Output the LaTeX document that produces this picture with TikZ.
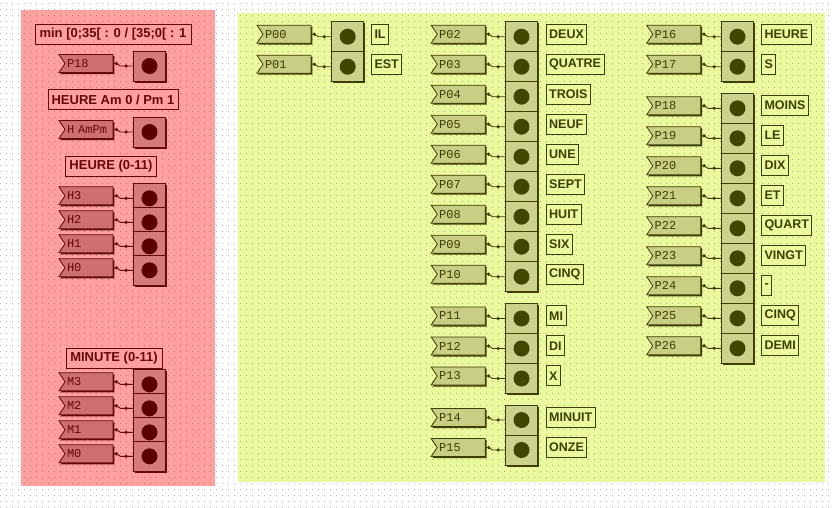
\documentclass[tikz,border=0pt]{standalone}
\usepackage{fontspec}
\setmainfont{Liberation Sans}
\setmonofont{Liberation Mono}
\usetikzlibrary{shapes.symbols,shadows,calc}

\definecolor{redpanel}{RGB}{255,160,160}
\definecolor{redtag}{RGB}{206,112,112}
\definecolor{redbox}{RGB}{214,122,122}
\definecolor{redled}{RGB}{90,0,0}
\definecolor{reddark}{RGB}{100,8,8}
\definecolor{yelpanel}{RGB}{234,248,158}
\definecolor{yeltag}{RGB}{200,206,132}
\definecolor{yelbox}{RGB}{204,210,140}
\definecolor{yelled}{RGB}{62,70,0}
\definecolor{yeldark}{RGB}{62,62,0}

% one output pin: tag, wire, LED cell
\newcommand\ledrow[6]{%
  \node[pintag=#1] (t#2) at (#4,#6+12.5) {#3};
  \node[ledbox=#1] (b#2) at (#5,#6+15) {};
  \node[led=#1] (l#2) at (b#2.center) {};
  \draw[wire=#1] (t#2.east) -- ++(3,0) -- ([xshift=7pt]t#2.east |- b#2.west) -- (b#2.west);
  \node[pindot=#1] (da#2) at ([xshift=3pt]t#2.east) {};
  \node[pindot=#1] (db#2) at ([xshift=-7pt]b#2.west) {};
}

\begin{document}
\begin{tikzpicture}[x=1pt, y=-1pt,
    griddot/.style={draw=black, opacity=0.28, line width=1pt, dash pattern=on 1pt off 5pt},
    pintag/.style={signal, signal from=west, signal to=nowhere, signal pointer angle=112,
      draw=#1dark, fill=#1tag, line width=0.8pt, minimum width=54pt, minimum height=18pt,
      inner xsep=1pt, inner ysep=0pt, text width=44pt, align=left, text=#1dark,
      font=\ttfamily\fontsize{12}{12}\selectfont,
      general shadow={fill=#1dark, shadow xshift=1.5pt, shadow yshift=-1.5pt}},
    ledbox/.style={draw=#1dark, fill=#1box, line width=0.8pt, minimum width=32pt,
      minimum height=30pt, inner sep=0pt,
      general shadow={fill=#1dark, shadow xshift=1.5pt, shadow yshift=-1.5pt}},
    led/.style={circle, fill=#1led, minimum size=16pt, inner sep=0pt},
    wire/.style={draw=#1dark, line width=0.9pt},
    pindot/.style={circle, fill=#1dark, minimum size=3.6pt, inner sep=0pt},
    word/.style={draw=#1dark, fill=#1panel, line width=1pt, text=#1dark, anchor=west,
      font=\bfseries\fontsize{12.5}{12.5}\selectfont, minimum height=20pt,
      inner xsep=3pt, inner ysep=0pt},
    title/.style={word=red, anchor=center, font=\bfseries\fontsize{13}{13}\selectfont}
]
\useasboundingbox (0,0) rectangle (832,507);

% Background, panels and dot grid
\fill[white] (0,0) rectangle (832,507);
\fill[redpanel] (21,10) rectangle (215,486);
\fill[yelpanel] (237.7,12.7) rectangle (825,481.7);
\foreach \gy in {3,9,...,507}
  \draw[griddot] (0,\gy) -- (832,\gy);

% Inputs (red panel)
\node[title, minimum width=156pt] (tMin) at (113,34) {min [0;35[ : 0 / [35;0[ : 1};
\ledrow{red}{rMin}{P18}{89}{149.5}{51}
\node[title, minimum width=130pt] (tAmPm) at (113,99.5) {HEURE Am 0 / Pm 1};
\ledrow{red}{rAmPm}{H AmPm}{89}{149.5}{117}
\node[title, minimum width=91pt] (tHeure) at (111,166) {HEURE (0-11)};
\foreach \n/\t in {3/183.3, 2/207.3, 1/231.3, 0/255.3}{
  \ledrow{red}{rH\n}{H\n}{89}{149.5}{\t}
}
\node[title, minimum width=96pt] (tMinute) at (114,358) {MINUTE (0-11)};
\foreach \n/\t in {3/369.3, 2/393.3, 1/417.3, 0/441.3}{
  \ledrow{red}{rM\n}{M\n}{89}{149.5}{\t}
}

% Outputs, first column
\foreach \p/\t/\w in {P00/21.7/IL, P01/51.7/EST}{
  \ledrow{yel}{y\p}{\p}{287}{347.7}{\t}
  \node[word=yel] (w\p) at (371,\t+12.3) {\w};
}

% Outputs, second column
\foreach \p/\t/\w in {P02/21.7/DEUX, P03/51.7/QUATRE, P04/81.7/TROIS, P05/111.7/NEUF,
    P06/141.7/UNE, P07/171.7/SEPT, P08/201.7/HUIT, P09/231.7/SIX, P10/261.7/CINQ,
    P11/303.5/MI, P12/333.5/DI, P13/363.5/X, P14/405/MINUIT, P15/435/ONZE}{
  \ledrow{yel}{y\p}{\p}{461.2}{521.5}{\t}
  \node[word=yel] (w\p) at (545.7,\t+12.3) {\w};
}

% Outputs, third column
\foreach \p/\t/\w in {P16/21.7/HEURE, P17/51.7/S, P18/93.3/MOINS, P19/123.3/LE,
    P20/153.3/DIX, P21/183.3/ET, P22/213.3/QUART, P23/243.3/VINGT, P24/273.3/-,
    P25/303.3/CINQ, P26/333.3/DEMI}{
  \ledrow{yel}{y\p}{\p}{676.7}{737.5}{\t}
  \node[word=yel] (w\p) at (761,\t+12.3) {\w};
}
\end{tikzpicture}
\end{document}
